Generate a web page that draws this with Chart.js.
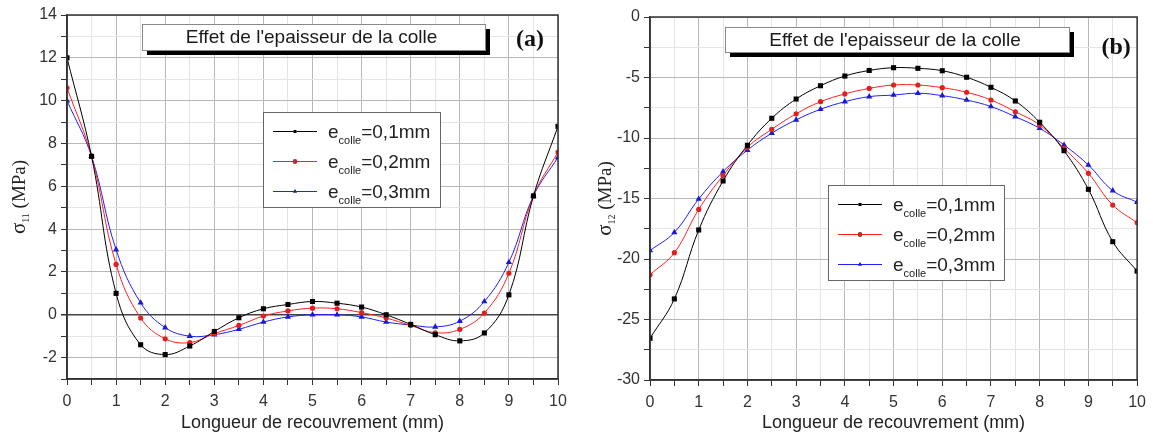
<!DOCTYPE html>
<html>
<head>
<meta charset="utf-8">
<script src="https://cdn.jsdelivr.net/npm/chart.js@4/dist/chart.umd.min.js"></script>
<style>
  html, body { margin:0; padding:0; background:#fff; }
  body { width:1153px; height:434px; position:relative; overflow:hidden; }
  canvas { position:absolute; top:0; }
  #chartA { left:0; }
  #chartB { left:578px; }
</style>
</head>
<body>
<canvas id="chartA" width="575" height="434"></canvas>
<canvas id="chartB" width="575" height="434"></canvas>
<script>
// Longueur de recouvrement (mm)
const xs = [0,0.5,1,1.5,2,2.5,3,3.5,4,4.5,5,5.5,6,6.5,7,7.5,8,8.5,9,9.5,10];

// (a) sigma 11 (MPa)
const s11_e01 = [12.0,7.4,1.0,-1.4,-1.86,-1.46,-0.78,-0.14,0.28,0.48,0.62,0.54,0.36,0.0,-0.45,-0.93,-1.22,-0.85,0.93,5.55,8.8];
const s11_e02 = [10.6,7.4,2.35,-0.15,-1.12,-1.3,-0.88,-0.5,-0.06,0.18,0.31,0.28,0.1,-0.15,-0.5,-0.84,-0.68,0.08,1.94,5.55,7.6];
const s11_e03 = [10.0,7.4,3.04,0.56,-0.6,-1.0,-0.93,-0.68,-0.34,-0.1,0.0,0.0,-0.1,-0.34,-0.48,-0.57,-0.3,0.62,2.45,5.55,7.35];

// (b) sigma 12 (MPa)
const s12_e01 = [-26.55,-23.3,-17.6,-13.55,-10.6,-8.37,-6.78,-5.68,-4.88,-4.42,-4.19,-4.24,-4.44,-4.98,-5.81,-6.94,-8.7,-11.05,-14.24,-18.57,-21.0];
const s12_e02 = [-21.3,-19.48,-15.9,-13.1,-10.77,-9.28,-8.0,-7.0,-6.36,-5.9,-5.62,-5.62,-5.84,-6.22,-6.86,-7.83,-8.93,-10.85,-12.92,-15.54,-17.0];
const s12_e03 = [-19.3,-17.8,-15.04,-12.78,-11.0,-9.6,-8.5,-7.63,-7.0,-6.58,-6.45,-6.3,-6.5,-6.86,-7.4,-8.24,-9.2,-10.58,-12.23,-14.35,-15.3];

const legendTails = ['=0,1mm','=0,2mm','=0,3mm'];
const boxTitle = "Effet de l'epaisseur de la colle";
const xTitle = 'Longueur de recouvrement (mm)';

const styles = [
  { line:'#000000', fill:'#000000', point:'rect', r:3.6 },
  { line:'#ff2020', fill:'#e02020', point:'circle', r:2.6 },
  { line:'#2020ff', fill:'#1a1ad0', point:'triangle', r:3.6 }
];

function mkDatasets(series){
  return series.map((s,i)=>({
    label: 'e colle' + legendTails[i],
    data: xs.map((x,j)=>({x, y:s[j]})),
    borderColor: styles[i].line, backgroundColor: styles[i].fill,
    pointBackgroundColor: styles[i].fill, pointBorderColor: styles[i].fill,
    pointStyle: styles[i].point, pointRadius: styles[i].r, pointBorderWidth: 0,
    borderWidth: 1, tension: 0.4, fill:false
  }));
}

// decorations: frame, title box, (a)/(b), legend, y title with subscript
const decor = {
  id: 'decor',
  afterDatasetsDraw(chart, args, o){
    const ctx = chart.ctx, ca = chart.chartArea;
    ctx.save();
    // frame
    ctx.strokeStyle = '#333'; ctx.lineWidth = 1.5;
    ctx.strokeRect(ca.left, ca.top, ca.right-ca.left, ca.bottom-ca.top);

    // title box with shadow
    const tb = o.titleBox;
    const tx = ca.left + tb.dx, ty = ca.top + tb.dy;
    ctx.fillStyle = '#000'; ctx.fillRect(tx+5, ty+5, tb.w, tb.h);
    ctx.fillStyle = '#fff'; ctx.fillRect(tx, ty, tb.w, tb.h);
    ctx.strokeStyle = '#888'; ctx.lineWidth = 1; ctx.strokeRect(tx+0.5, ty+0.5, tb.w, tb.h);
    ctx.fillStyle = '#1a1a1a'; ctx.font = '19px "Liberation Sans", Arial, sans-serif';
    ctx.textAlign = 'center'; ctx.textBaseline = 'middle';
    ctx.fillText(boxTitle, tx + tb.w/2 - 2, ty + tb.h/2 + 1);

    // panel label
    ctx.font = 'bold 24px "Liberation Serif", "Times New Roman", serif';
    ctx.fillStyle = '#111';
    ctx.fillText(o.panel, ca.right + o.panelDx, ca.top + o.panelDy);

    // legend
    const lg = o.legend;
    const lx = ca.left + lg.dx, ly = ca.top + lg.dy;
    ctx.fillStyle = '#fff'; ctx.fillRect(lx, ly, lg.w, lg.h);
    ctx.strokeStyle = '#666'; ctx.lineWidth = 1; ctx.strokeRect(lx+0.5, ly+0.5, lg.w, lg.h);
    chart.data.datasets.forEach((ds,i)=>{
      const ry = ly + 19 + 30*i;
      ctx.strokeStyle = ds.borderColor; ctx.lineWidth = 1;
      ctx.beginPath(); ctx.moveTo(lx+10, ry+0.5); ctx.lineTo(lx+54, ry+0.5); ctx.stroke();
      Chart.helpers.drawPoint(ctx, {pointStyle: ds.pointStyle, radius: 2.2, borderWidth: 0}, lx+32, ry+0.5);
      ctx.fillStyle = ds.pointBackgroundColor; ctx.fill();
      ctx.fillStyle = '#222'; ctx.textAlign = 'left'; ctx.textBaseline = 'alphabetic';
      let x = lx + 65;
      ctx.font = '19px "Liberation Sans", Arial, sans-serif';
      ctx.fillText('e', x, ry + 7); x += ctx.measureText('e').width;
      ctx.font = '11px "Liberation Sans", Arial, sans-serif';
      ctx.fillText('colle', x, ry + 13); x += ctx.measureText('colle').width;
      ctx.font = '19px "Liberation Sans", Arial, sans-serif';
      ctx.fillText(legendTails[i], x, ry + 7);
    });

    // y axis title with subscript
    ctx.translate(o.yTitleX, (ca.top + ca.bottom)/2);
    ctx.rotate(-Math.PI/2);
    ctx.fillStyle = '#222'; ctx.textAlign = 'left'; ctx.textBaseline = 'alphabetic';
    const f1 = '21px "Liberation Serif", "Times New Roman", serif';
    const f2 = '10px "Liberation Serif", "Times New Roman", serif';
    const f3 = '19px "Liberation Serif", "Times New Roman", serif';
    ctx.font = f1; const w1 = ctx.measureText('σ').width;
    ctx.font = f2; const w2 = ctx.measureText(o.ySub).width;
    ctx.font = f3; const w3 = ctx.measureText(' (MPa)').width;
    let x = -(w1+w2+w3)/2;
    ctx.font = f1; ctx.fillText('σ', x, 6); x += w1;
    ctx.font = f2; ctx.fillText(o.ySub, x, 10); x += w2;
    ctx.font = f3; ctx.fillText(' (MPa)', x, 6);
    ctx.restore();
  }
};

function makeChart(id, series, cfg){
  return new Chart(document.getElementById(id), {
    type: 'line',
    data: { datasets: mkDatasets(series) },
    options: {
      responsive: false, animation: false,
      layout: { padding: { left:0, right:cfg.padRight, top:cfg.padTop, bottom:0 } },
      plugins: { legend:{display:false}, tooltip:{enabled:false}, decor: cfg.decor },
      scales: {
        x: {
          type:'linear', min:0, max:10,
          afterFit: s => { s.height = cfg.xHeight; },
          ticks: { stepSize:0.5, autoSkip:false, maxRotation:0, padding:7, color:'#333',
                   font:{family:'"Liberation Sans", Arial, sans-serif', size:16},
                   callback: v => Number.isInteger(v) ? String(v) : '' },
          grid: { color: c => Number.isInteger(c.tick.value) ? '#b8b8b8' : '#e4e4e4',
                  tickColor:'#333', tickLength:6 },
          border: { color:'#333', width:1.5 },
          title: { display:true, text:xTitle, color:'#222', padding:{top:0,bottom:0},
                   font:{family:'"Liberation Sans", Arial, sans-serif', size:18} }
        },
        y: {
          type:'linear', min:cfg.yMin, max:cfg.yMax,
          afterFit: s => { s.width = cfg.yWidth; },
          ticks: { stepSize:cfg.yMinor, autoSkip:false, padding:4, color:'#333',
                   font:{family:'"Liberation Sans", Arial, sans-serif', size:16},
                   callback: v => (Math.abs(v % cfg.yMajor) < 1e-9) ? String(v) : '' },
          grid: { color: c => c.tick.value === 0 && cfg.zeroLine ? '#444' :
                    (Math.abs(c.tick.value % cfg.yMajor) < 1e-9 ? '#b8b8b8' : '#e4e4e4'),
                  lineWidth: c => c.tick.value === 0 && cfg.zeroLine ? 1.5 : 1,
                  tickColor:'#333', tickLength:6 },
          border: { color:'#333', width:1.5 }
        }
      }
    },
    plugins: [decor]
  });
}

makeChart('chartA', [s11_e01, s11_e02, s11_e03], {
  padRight:17, padTop:15, xHeight:55, yWidth:67,
  yMin:-3, yMax:14, yMinor:1, yMajor:2, zeroLine:true,
  decor: { panel:'(a)', panelDx:-28, panelDy:25, ySub:'11', yTitleX:19,
           titleBox:{dx:75, dy:9, w:343, h:26},
           legend:{dx:196, dy:97, w:177, h:95} }
});

makeChart('chartB', [s12_e01, s12_e02, s12_e03], {
  padRight:12, padTop:17, xHeight:54, yWidth:72,
  yMin:-30, yMax:0, yMinor:2.5, yMajor:5, zeroLine:false,
  decor: { panel:'(b)', panelDx:-21, panelDy:31, ySub:'12', yTitleX:27,
           titleBox:{dx:75, dy:10, w:344, h:25},
           legend:{dx:178, dy:168, w:176, h:95} }
});
</script>
</body>
</html>
